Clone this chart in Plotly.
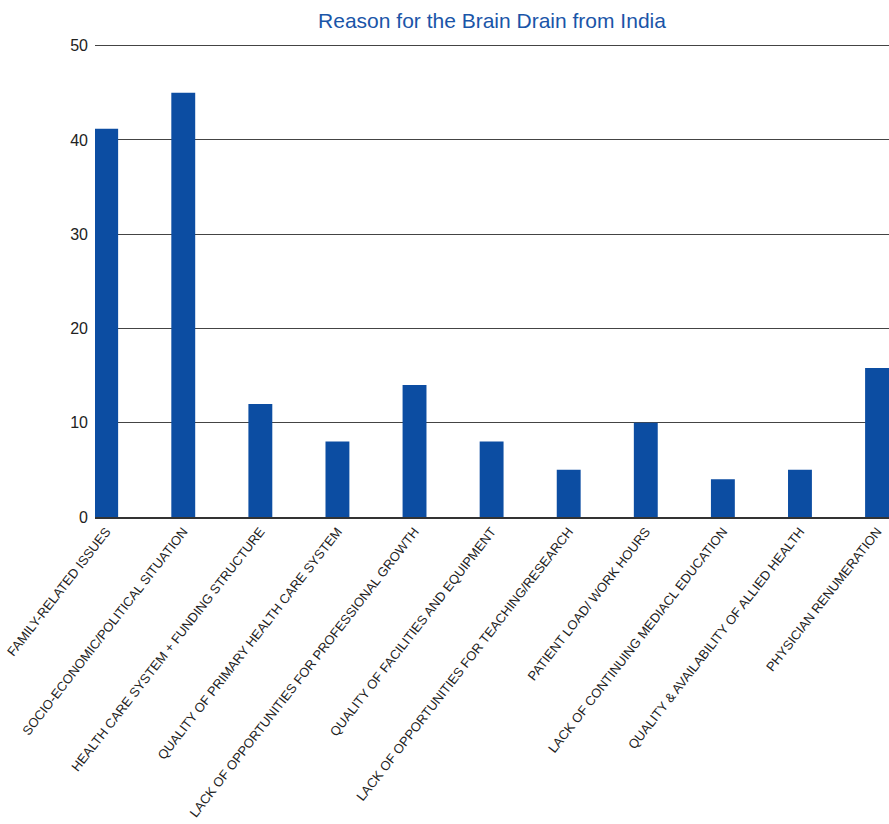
import plotly.graph_objects as go

categories = [
    "FAMILY-RELATED ISSUES",
    "SOCIO-ECONOMIC/POLITICAL SITUATION",
    "HEALTH CARE SYSTEM + FUNDING STRUCTURE",
    "QUALITY OF PRIMARY HEALTH CARE SYSTEM",
    "LACK OF OPPORTUNITIES FOR PROFESSIONAL GROWTH",
    "QUALITY OF FACILITIES AND EQUIPMENT",
    "LACK OF OPPORTUNITIES FOR TEACHING/RESEARCH",
    "PATIENT LOAD/ WORK HOURS",
    "LACK OF CONTINUING MEDIACL EDUCATION",
    "QUALITY & AVAILABILITY OF ALLIED HEALTH",
    "PHYSICIAN RENUMERATION",
]
values = [41.2, 45, 12, 8, 14, 8, 5, 10, 4, 5, 15.8]
y_ticks = [0, 10, 20, 30, 40, 50]

fig = go.Figure(go.Bar(
    x=categories, y=values, width=0.31,
    marker=dict(color="#0c4da2", line=dict(width=0)),
))

fig.update_layout(
    width=889, height=824,
    margin=dict(l=95, r=0, t=41, b=307),
    paper_bgcolor="white", plot_bgcolor="white",
    font=dict(family="Liberation Sans, Arial, sans-serif", color="#222"),
    title=dict(text="Reason for the Brain Drain from India", x=0.5, xref="paper",
               xanchor="center", y=1 - 21 / 824, yref="container", yanchor="middle",
               font=dict(size=21, color="#1a55a8")),
    showlegend=False,
)
fig.update_xaxes(
    type="category", range=[-0.145, 10.155], tickangle=-52,
    tickfont=dict(size=13, color="#222"), showgrid=False,
    showline=True, linecolor="#333", linewidth=1.5, ticks="",
)
fig.update_yaxes(
    range=[0, 50.5], tickvals=y_ticks, showgrid=True, gridcolor="#444", gridwidth=1,
    tickfont=dict(size=16, color="#222"), zeroline=False, showline=False, ticks="",
    ticklabelstandoff=6,
)
fig.write_html("out.html", config={"displayModeBar": False},
               post_script="document.body.style.margin='0';document.body.style.overflow='hidden';")
